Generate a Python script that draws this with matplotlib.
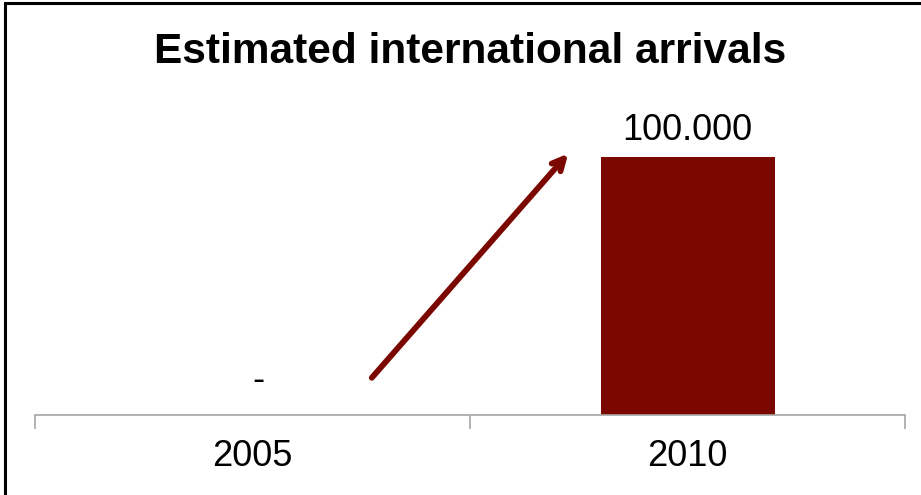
import matplotlib.pyplot as plt
from matplotlib.patches import Rectangle

years = ["2005", "2010"]
arrivals = [0, 100000]
value_labels = ["-", "100.000"]
title = "Estimated international arrivals"

bar_color = "#7b0800"
axis_gray = "#a6a6a6"

plt.rcParams['font.family'] = ['Liberation Sans', 'DejaVu Sans']

fig = plt.figure(figsize=(9.21, 4.95), dpi=100)
ax = fig.add_axes([35 / 921, 1 - 415 / 495, 870 / 921, (415 - 105) / 495])

x = list(range(len(years)))
ax.bar(x, arrivals, width=0.40, color=bar_color)
ax.set_xlim(-0.5, len(years) - 0.5)
ax.set_ylim(0, 120000)

for xi, v, lab in zip(x, arrivals, value_labels):
    if v == 0:
        ax.annotate(lab, (xi, v), xytext=(4, 12), textcoords="offset points",
                    ha="center", va="bottom", fontsize=26)
    else:
        ax.annotate(lab, (xi, v), xytext=(0, 6), textcoords="offset points",
                    ha="center", va="bottom", fontsize=26)

# trend arrow
ax.annotate("", xy=(0.73, 102000), xytext=(0.27, 13600),
            arrowprops=dict(arrowstyle="->,head_length=0.85,head_width=0.42",
                            color=bar_color, lw=4.2))

ax.set_xticks([-0.5, 0.5, 1.5])
ax.set_xticklabels([])
ax.set_xticks(x, minor=True)
ax.set_xticklabels(years, minor=True, fontsize=26)
ax.tick_params(axis="x", which="major", length=10, width=1.2, color=axis_gray)
ax.tick_params(axis="x", which="minor", length=0, pad=17)
ax.set_yticks([])
for s in ["left", "right", "top"]:
    ax.spines[s].set_visible(False)
ax.spines["bottom"].set_color(axis_gray)
ax.spines["bottom"].set_linewidth(1.2)

fig.text(470 / 921, 1 - 52 / 495, title, ha="center", va="center",
         fontsize=30.5, fontweight="bold")

# outer border (cropped on right and bottom)
fig.patches.append(Rectangle((5 / 921, -0.1), 1.2, 1 - 3 / 495 + 0.1,
                             transform=fig.transFigure, fill=False,
                             edgecolor="black", linewidth=2.2))

fig.savefig("out.png", dpi=100)
